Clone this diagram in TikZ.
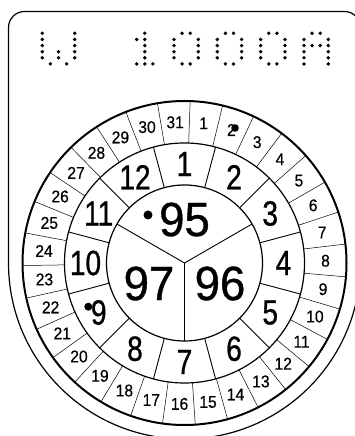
\documentclass[tikz,border=0pt]{standalone}
\usepackage{fontspec}
\setmainfont{Liberation Sans}
\newfontfamily\monthfont[FakeStretch=0.8,FakeBold=0.8]{Liberation Sans}
\newfontfamily\yearfont[FakeStretch=0.95,FakeBold=0.8]{Liberation Sans}
\newfontfamily\dayfont[FakeStretch=0.92,FakeBold=0.5]{Liberation Sans}
\newcommand\dotchar[2]{\foreach \cc/\rr in {#2} {\fill ({#1+8.1*\cc-184.5},{263-33.3-6.13*\rr}) circle[radius=1.9];}}
\begin{document}
\begin{tikzpicture}[x=1pt,y=1pt,
  frameline/.style={line width=1.2pt},
  thickring/.style={line width=2pt},
  ring/.style={line width=1.2pt},
  dayline/.style={line width=0.5pt},
  monthline/.style={line width=0.9pt},
  yearline/.style={line width=0.9pt},
  daylbl/.style={font=\dayfont\fontsize{17}{17}\selectfont, inner sep=0pt},
  monthlbl/.style={font=\monthfont\fontsize{35}{35}\selectfont, inner sep=0pt},
  yearlbl/.style={font=\yearfont\fontsize{48}{48}\selectfont, inner sep=0pt},
  bigdot/.style={fill=black}]
\useasboundingbox (-184.5,-173) rectangle (169.5,263);
% frame
\draw[frameline] (-176,0) -- (-176,235.5) arc[start angle=180,end angle=90,radius=16]
  -- (160,251.5) arc[start angle=90,end angle=0,radius=16] -- (176,0)
  arc[start angle=0,end angle=-180,radius=176];
% dot-matrix text
\dotchar{42.3}{0/0,0/1,0/2,0/3,0/4,4/0,4/1,4/2,4/3,4/4,2/3,2/4,1/5,3/5}
\dotchar{136.7}{1/0,0/1,1/1,1/2,1/3,1/4,0/5,1/5,2/5}
\dotchar{174}{1/0,2/0,0/1,0/2,0/3,0/4,3/1,3/2,3/3,3/4,1/5,2/5}
\dotchar{217.3}{1/0,2/0,0/1,0/2,0/3,0/4,3/1,3/2,3/3,3/4,1/5,2/5}
\dotchar{260.7}{1/0,2/0,0/1,0/2,0/3,0/4,3/1,3/2,3/3,3/4,1/5,2/5}
\dotchar{304}{1/0,2/0,0/1,0/2,0/3,0/4,0/5,3/1,3/2,3/3,3/4,3/5,1/2,2/2}
% rings
\draw[thickring] (0,0) circle[radius=162];
\draw[ring] (0,0) circle[radius=120];
\draw[ring] (0,0) circle[radius=78];
% day divisions
\foreach \i in {0,...,30} {\draw[dayline] ({88-\i*11.6129}:120) -- ({88-\i*11.6129}:162);}
% month divisions
\foreach \i in {0,...,11} {\draw[monthline] ({15+30*\i}:78) -- ({15+30*\i}:120);}
% year divisions
\coordinate (ctr) at (0,0);
\coordinate (ya) at (150:78);
\coordinate (yb) at (30:78);
\coordinate (yc) at (270:78);
\draw[yearline] (ya) -- (ctr) -- (yb);
\draw[yearline] (ctr) -- (yc);
% labels
\foreach \d in {1,...,31} {\node[daylbl] (d\d) at ({88-(\d-0.5)*11.6129}:141) {\d};}
\foreach \m in {1,...,12} {\node[monthlbl] (m\m) at ({90-(\m-1)*30}:99) {\m};}
\node[yearlbl] (y95) at (0,43.5) {95};
\node[yearlbl] (y97) at (210:41) {97};
\node[yearlbl] (y96) at (330:41) {96};
% marker dots
\fill[bigdot] (-36.5,48) circle[radius=4.5];
\fill[bigdot] (-96.2,-43.7) circle[radius=4];
\fill[bigdot] (50.5,135) circle[radius=3.8];
\end{tikzpicture}
\end{document}
